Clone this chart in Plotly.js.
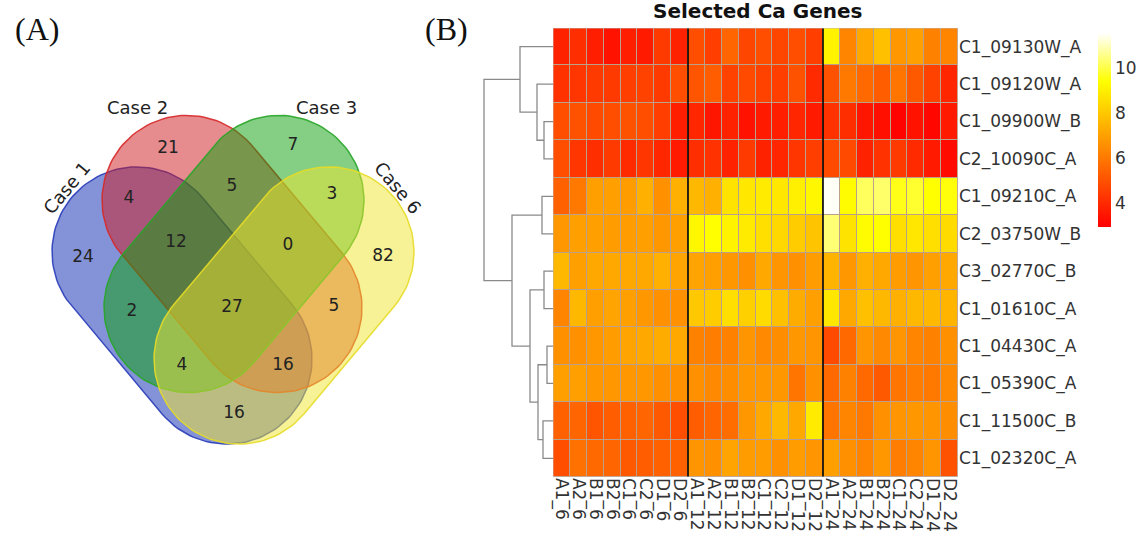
<!DOCTYPE html>
<html>
<head>
<meta charset="utf-8">
<script src="https://cdn.plot.ly/plotly-3.0.1.min.js"></script>
<style>html,body{margin:0;padding:0;background:#fff;}#chart{width:1147px;height:540px;}</style>
</head>
<body>
<div id="chart"></div>
<script>
// ---------- Panel A: Venn data ----------
const vennSets = ['Case 1', 'Case 2', 'Case 3', 'Case 6'];
const vennRegions = ['1', '2', '3', '6', '1&2', '2&3', '3&6', '1&2&3', '2&3&6', '1&3', '1&2&3&6', '2&6', '1&3&6', '1&2&6', '1&6'];
const vennCounts = [24, 21, 7, 82, 4, 5, 3, 12, 0, 2, 27, 5, 4, 16, 16];

// ---------- Panel B: heatmap data ----------
const samples = ['A1_6','A2_6','B1_6','B2_6','C1_6','C2_6','D1_6','D2_6',
                 'A1_12','A2_12','B1_12','B2_12','C1_12','C2_12','D1_12','D2_12',
                 'A1_24','A2_24','B1_24','B2_24','C1_24','C2_24','D1_24','D2_24'];
const genes = ['C1_09130W_A','C1_09120W_A','C1_09900W_B','C2_10090C_A','C1_09210C_A','C2_03750W_B',
               'C3_02770C_B','C1_01610C_A','C1_04430C_A','C1_05390C_A','C1_11500C_B','C1_02320C_A'];
const C1_09130W_A = [3.8,4.1,3.7,3.4,3.7,3.6,4.4,3.8, 4.9,4.5,5.5,4.7,4.9,4.7,4.9,4.5, 9.1,6.3,7.2,7.8,6.8,7.0,6.2,6.3];
const C1_09120W_A = [4.2,4.3,4.4,4.4,4.5,4.6,4.4,4.9, 5.1,5.3,4.6,4.8,4.6,4.5,5.0,4.0, 5.0,6.0,5.6,5.3,5.9,5.2,4.6,3.9];
const C1_09900W_B = [4.9,5.0,4.8,4.9,5.0,4.9,4.5,3.7, 3.9,3.5,3.8,3.4,3.6,3.7,3.9,3.6, 4.2,4.1,3.5,3.3,3.0,3.4,3.1,3.6];
const C2_10090C_A = [4.9,4.3,4.1,4.4,4.0,4.3,3.9,3.6, 4.1,4.2,3.8,4.4,3.8,3.9,4.3,4.5, 4.8,4.8,3.8,4.2,4.4,4.0,3.6,3.2];
const C1_09210C_A = [5.4,6.0,7.0,7.0,6.9,7.4,6.6,7.4, 7.6,7.4,8.7,8.8,8.9,8.8,9.0,9.2, 11.5,9.3,10.2,10.3,9.6,9.8,9.4,9.5];
const C2_03750W_B = [6.8,7.0,7.0,6.9,6.9,7.0,6.8,7.0, 9.2,9.4,9.1,8.9,8.6,8.4,8.1,7.9, 10.4,8.7,9.3,9.4,8.6,8.8,8.6,8.5];
const C3_02770C_B = [7.6,7.0,7.2,7.2,7.2,7.2,7.4,7.1, 7.1,7.0,6.8,6.6,7.2,6.7,6.6,6.9, 7.5,6.8,7.4,7.2,6.9,6.7,7.0,7.2];
const C1_01610C_A = [6.3,7.6,7.0,7.1,7.0,6.8,6.6,6.6, 8.0,8.1,8.6,8.2,8.5,7.8,7.3,7.0, 8.8,7.2,7.8,7.6,7.4,7.6,7.6,7.5];
const C1_04430C_A = [6.6,6.6,6.8,6.9,7.1,7.2,7.3,7.2, 6.2,6.1,6.2,6.7,6.4,6.5,6.8,6.7, 4.8,5.6,6.7,6.4,6.7,6.3,6.2,6.6];
const C1_05390C_A = [7.0,7.0,6.8,6.8,6.8,6.8,6.6,6.6, 6.6,6.4,6.5,6.8,6.8,6.8,5.9,6.6, 5.6,6.2,5.6,5.2,5.9,6.1,6.0,6.4];
const C1_11500C_B = [5.4,5.5,5.1,5.3,5.4,5.5,5.2,4.9, 5.3,5.5,5.7,6.8,7.2,7.6,7.2,8.9, 5.9,6.3,6.0,6.6,6.7,6.8,6.7,6.5];
const C1_02320C_A = [4.9,5.8,5.6,5.5,5.2,5.3,5.4,5.4, 6.7,6.6,7.1,6.9,6.9,6.6,6.9,6.7, 7.0,6.6,6.3,6.8,6.1,6.3,6.7,5.0];
const colorTicks = [4, 6, 8, 10];

// dendrogram (hclust-style merge: negative = leaf row, positive = earlier merge)
const dendroMerge = [[-3,-4],[-2,1],[-1,2],[-5,-6],[-7,-8],[-9,-10],[-11,-12],[6,7],[5,8],[4,9],[3,10]];
const dendroHeights = [9, 16, 33, 11, 9, 6, 10, 15, 23, 41, 69];

// ---------- geometry / styles (not data) ----------
const W = 1147, H = 540;
const venn = { // centre x,y (px), axis angle, half length, radius
  cx: [182, 232, 234, 284], cy: [305.5, 254, 254, 305.5], ang: [50, 50, 130, 130], L: 70, r: 85
};
const vennFill = ['rgba(10,40,175,0.5)', 'rgba(207,25,30,0.5)', 'rgba(10,160,10,0.5)', 'rgba(240,230,45,0.5)'];
const vennLine = ['rgba(40,60,185,0.9)', 'rgba(215,40,40,0.9)', 'rgba(40,165,40,0.9)', 'rgba(230,220,40,0.9)'];
const regionPos = {
  '1':[83,258], '2':[168,149], '3':[293,146], '6':[383,257], '1&2':[129,199], '2&3':[232,187],
  '3&6':[332,195], '1&2&3':[176,243], '2&3&6':[288,246], '1&3':[132,312], '1&2&3&6':[232,308],
  '2&6':[334,307], '1&3&6':[182,366], '1&2&6':[283,366], '1&6':[234,414]
};
const setLabelPos = [[66,188,-50],[137,107,0],[326,107,0],[398,187,50]];

function stadium(cx, cy, angDeg, L, r) {
  const a = angDeg * Math.PI / 180, dx = Math.cos(a), dy = Math.sin(a);
  const c1 = [cx - L*dx, cy - L*dy], c2 = [cx + L*dx, cy + L*dy];
  const xs = [], ys = [];
  for (let i = 0; i <= 60; i++) { const t = a - Math.PI/2 + Math.PI*i/60; xs.push(c2[0] + r*Math.cos(t)); ys.push(c2[1] + r*Math.sin(t)); }
  for (let i = 0; i <= 60; i++) { const t = a + Math.PI/2 + Math.PI*i/60; xs.push(c1[0] + r*Math.cos(t)); ys.push(c1[1] + r*Math.sin(t)); }
  xs.push(xs[0]); ys.push(ys[0]);
  return [xs, ys];
}

const traces = [];
vennSets.forEach((s, i) => {
  const [xs, ys] = stadium(venn.cx[i], venn.cy[i], venn.ang[i], venn.L, venn.r);
  traces.push({type:'scatter', mode:'lines', x: xs, y: ys, xaxis:'x3', yaxis:'y3', fill:'toself',
    fillcolor: vennFill[i], line:{color: vennLine[i], width: 1.5}, hoverinfo:'skip', showlegend:false, name:s});
});
traces.push({type:'scatter', mode:'text', xaxis:'x3', yaxis:'y3',
  x: vennRegions.map(k => regionPos[k][0]), y: vennRegions.map(k => regionPos[k][1]),
  text: vennCounts.map(String), textfont:{family:'DejaVu Sans', size:17, color:'#222'},
  textposition:'middle center', hoverinfo:'skip', showlegend:false});

// dendrogram segments
const nodeY = [], nodeH = [];
const dx = [], dy = [];
function childPos(c) { return c < 0 ? [-c - 1, 0] : [nodeY[c-1], nodeH[c-1]]; }
dendroMerge.forEach((m, k) => {
  const h = dendroHeights[k];
  const [ya, ha] = childPos(m[0]), [yb, hb] = childPos(m[1]);
  dx.push(ha, h, h, hb, null); dy.push(ya, ya, yb, yb, null);
  nodeY.push((ya + yb) / 2); nodeH.push(h);
});
traces.push({type:'scatter', mode:'lines', x: dx, y: dy, xaxis:'x2', yaxis:'y',
  line:{color:'#8a8a8a', width:1.3}, hoverinfo:'skip', showlegend:false});

const z = [C1_09130W_A, C1_09120W_A, C1_09900W_B, C2_10090C_A, C1_09210C_A, C2_03750W_B,
           C3_02770C_B, C1_01610C_A, C1_04430C_A, C1_05390C_A, C1_11500C_B, C1_02320C_A];
const xi = samples.map((_, i) => i), yi = genes.map((_, i) => i);
// border layer under the cells (shows through the gaps)
traces.push({type:'heatmap', x: xi, y: yi, z: z.map(r => r.map(() => 0)), xaxis:'x', yaxis:'y',
  colorscale:[[0,'#bca089'],[1,'#bca089']], showscale:false, hoverinfo:'skip'});
traces.push({type:'heatmap', x: xi, y: yi, z: z, xaxis:'x', yaxis:'y', xgap:1, ygap:1,
  zmin: 2.93, zmax: 11.56,
  colorscale:[[0,'#FF0000'],[0.75,'#FFFF00'],[1,'#FFFFFF']],
  colorbar:{x: 1098/W, xanchor:'left', y: 1 - 33/H, yanchor:'top', len: 194/H, lenmode:'fraction',
    thickness: 13, outlinewidth: 0, xpad: 0, ypad: 0, tickvals: colorTicks, ticks:'',
    tickfont:{family:'DejaVu Sans', size:17, color:'#333'}}});

const hx0 = 553/W, hx1 = 958/W, hy0 = 63/H, hy1 = 512/H;
const layout = {
  width: W, height: H, margin:{l:0, r:0, t:0, b:0}, paper_bgcolor:'#fff', plot_bgcolor:'rgba(0,0,0,0)',
  showlegend:false,
  xaxis:{domain:[hx0, hx1], range:[-0.5, samples.length - 0.5], tickvals: xi, ticktext: samples, tickangle: 90,
    tickfont:{family:'DejaVu Sans', size:17, color:'#333'}, ticks:'', showgrid:false, zeroline:false, anchor:'y', fixedrange:true},
  yaxis:{domain:[hy0, hy1], range:[genes.length - 0.5, -0.5], tickvals: yi, ticktext: genes, side:'right',
    tickfont:{family:'DejaVu Sans', size:17, color:'#333'}, ticks:'', showgrid:false, zeroline:false, anchor:'x', fixedrange:true},
  xaxis2:{domain:[470/W, hx0], range:[83, 0], visible:false, anchor:'y', fixedrange:true},
  xaxis3:{domain:[0, 470/W], range:[0, 470], visible:false, anchor:'y3', fixedrange:true},
  yaxis3:{domain:[0, 1], range:[H, 0], visible:false, anchor:'x3', fixedrange:true},
  shapes:[
    {type:'line', xref:'x', yref:'y', x0:7.5, x1:7.5, y0:-0.5, y1:genes.length-0.5, line:{color:'#000', width:1.6}},
    {type:'line', xref:'x', yref:'y', x0:15.5, x1:15.5, y0:-0.5, y1:genes.length-0.5, line:{color:'#000', width:1.6}},
    {type:'rect', xref:'x', yref:'y', x0:-0.5, x1:samples.length-0.5, y0:-0.5, y1:genes.length-0.5, line:{color:'#c8b0a0', width:1}}
  ],
  annotations:[
    {text:'<b>Selected Ca Genes</b>', xref:'paper', yref:'paper', x: 757/W, y: 1 - 11/H, xanchor:'center', yanchor:'middle',
      showarrow:false, font:{family:'DejaVu Sans', size:20, color:'#111'}},
    {text:'(A)', xref:'paper', yref:'paper', x: 37/W, y: 1 - 29/H, xanchor:'center', yanchor:'middle', showarrow:false,
      font:{family:'Liberation Serif', size:32, color:'#111'}},
    {text:'(B)', xref:'paper', yref:'paper', x: 446/W, y: 1 - 29/H, xanchor:'center', yanchor:'middle', showarrow:false,
      font:{family:'Liberation Serif', size:32, color:'#111'}}
  ].concat(vennSets.map((s, i) => ({text: s, xref:'x3', yref:'y3', x: setLabelPos[i][0], y: setLabelPos[i][1],
      textangle: setLabelPos[i][2], showarrow:false, xanchor:'center', yanchor:'middle',
      font:{family:'DejaVu Sans', size:18, color:'#222'}})))
};
Plotly.newPlot('chart', traces, layout, {staticPlot:true, displayModeBar:false});
</script>
</body>
</html>
